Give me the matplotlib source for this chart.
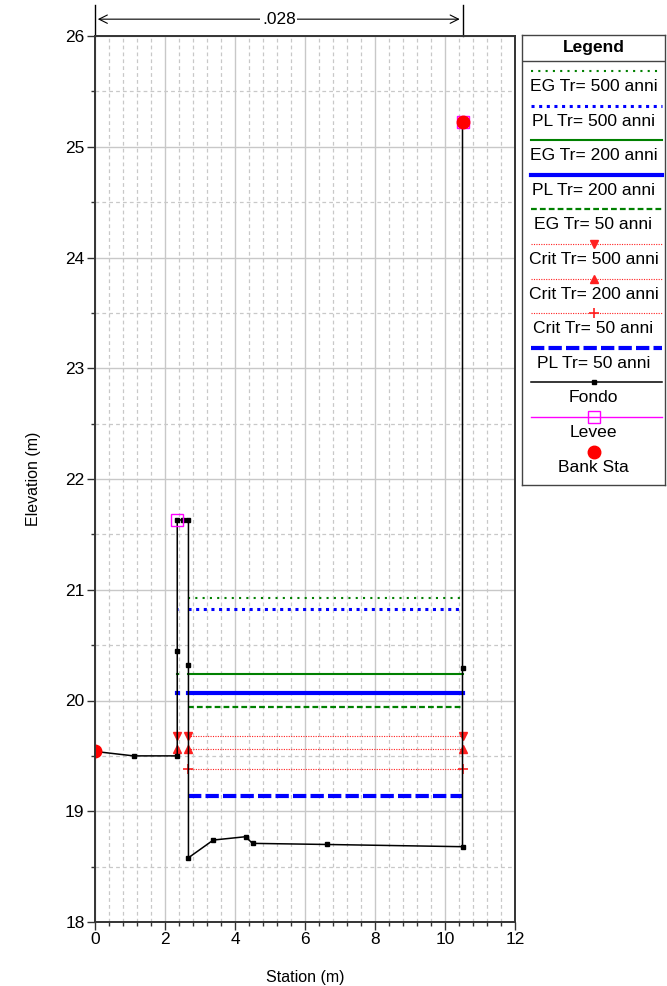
import matplotlib.pyplot as plt
import matplotlib.transforms as mtransforms
from matplotlib.ticker import MultipleLocator

plt.rcParams['font.family'] = ['Liberation Sans', 'DejaVu Sans']

# Ground profile (Fondo)
fondo_x = [0.0, 1.1, 2.35, 2.35, 2.35, 2.52, 2.67, 2.67, 2.67, 3.38, 4.30, 4.50, 6.62, 10.50, 10.50, 10.50]
fondo_y = [19.54, 19.50, 19.50, 20.45, 21.63, 21.63, 21.63, 20.32, 18.58, 18.74, 18.77, 18.71, 18.70, 18.68, 20.29, 25.22]

# Levee and bank stations
levee_x = [2.35, 10.50]
levee_y = [21.63, 25.22]
bank_x = [0.0, 10.50]
bank_y = [19.54, 25.22]

# Water surfaces
wl_names = ['EG Tr= 500 anni', 'PL Tr= 500 anni', 'EG Tr= 200 anni', 'PL Tr= 200 anni',
            'EG Tr= 50 anni', 'Crit Tr= 500 anni', 'Crit Tr= 200 anni', 'Crit Tr= 50 anni',
            'PL Tr= 50 anni']
wl_elev = [20.93, 20.83, 20.24, 20.07, 19.94, 19.68, 19.56, 19.38, 19.14]
pocket_sta = 2.35        # left wall face
pocket_floor = 19.50     # left overbank ground
channel_sta = [2.67, 10.50]

# Manning n
n_sta = [0.0, 10.50]
n_label = '.028'

# styles
green = '#008000'
blue = '#0000ff'
red = '#ff2020'
wl_styles = [
    dict(color=green, lw=1.5, ls=(0, (1, 2.5))),
    dict(color=blue, lw=2.2, ls=(0, (1, 1.5))),
    dict(color=green, lw=1.5, ls='-'),
    dict(color=blue, lw=3.0, ls='-'),
    dict(color=green, lw=1.6, ls=(0, (2.6, 1.4))),
    dict(color=red, lw=0.8, ls=(0, (1, 1.2)), marker='v', ms=6, mec=red, mfc=red),
    dict(color=red, lw=0.8, ls=(0, (1, 1.2)), marker='^', ms=6, mec=red, mfc=red),
    dict(color=red, lw=0.8, ls=(0, (1, 1.2)), marker='+', ms=7, mew=1.2, mec=red),
    dict(color=blue, lw=3.0, ls=(0, (3.2, 1.0))),
]
fondo_style = dict(color='black', lw=1.1, marker='s', ms=3.5, mfc='black', mec='black')
levee_style = dict(color='#ff00ff', lw=1.0, marker='s', ms=9, mfc='none', mec='#ff00ff')
bank_style = dict(color='red', ls='none', marker='o', ms=9, mfc='red', mec='red')

fig = plt.figure(figsize=(6.67, 9.86), dpi=100)
ax = fig.add_axes([95 / 667, 1 - 922 / 986, 420 / 667, 886 / 986])

for name, elev, st in zip(wl_names, wl_elev, wl_styles):
    has_marker = 'marker' in st
    if elev > pocket_floor:
        if has_marker:
            ax.plot([pocket_sta], [elev], **st)
        else:
            ax.plot([pocket_sta - 0.02, pocket_sta + 0.02], [elev, elev], **st)
    ax.plot(channel_sta, [elev, elev], **st)

ax.plot(fondo_x, fondo_y, **fondo_style)
ax.plot(levee_x, levee_y, ls='none', marker='s', ms=9, mfc='none', mec='#ff00ff', mew=1.0)
ax.plot(bank_x, bank_y, **bank_style)

ax.set_xlim(0, 12)
ax.set_ylim(18, 26)
ax.xaxis.set_major_locator(MultipleLocator(2))
ax.xaxis.set_minor_locator(MultipleLocator(0.4))
ax.yaxis.set_major_locator(MultipleLocator(1))
ax.yaxis.set_minor_locator(MultipleLocator(0.5))
ax.grid(which='major', color='#c8c8c8', lw=1.0, ls='-')
ax.grid(which='minor', color='#c8c8c8', lw=0.9, ls=(0, (3, 2.5)))
ax.set_axisbelow(True)
ax.tick_params(which='both', direction='out', labelsize=12.5, color='#333333', width=1.0)
ax.tick_params(which='major', length=5.5, pad=2)
ax.tick_params(which='minor', length=3)
for sp in ax.spines.values():
    sp.set_linewidth(1.4)
    sp.set_color('#333333')
ax.set_xlabel('Station (m)', fontsize=11.5, labelpad=16)
ax.set_ylabel('Elevation (m)', fontsize=11.5, labelpad=17)

# Manning n annotation above the plot
trans = mtransforms.blended_transform_factory(ax.transData, ax.transAxes)
for s in n_sta:
    ax.plot([s, s], [1.0, 1.035], transform=trans, color='black', lw=1.0, clip_on=False)
ax.annotate('', xy=(n_sta[0], 1.019), xytext=(n_sta[1], 1.019), xycoords=trans, textcoords=trans,
            arrowprops=dict(arrowstyle='<->,head_length=0.6,head_width=0.3', lw=0.8, color='black'))
ax.text(sum(n_sta) / 2, 1.019, n_label, transform=trans, ha='center', va='center', fontsize=12.5,
        bbox=dict(facecolor='white', edgecolor='none', pad=1))

# Legend drawn as its own box: sample line on top, label below
lax = fig.add_axes([522 / 667, 1 - 485 / 986, 143 / 667, 450 / 986])
lax.set_xlim(0, 143)
lax.set_ylim(450, 0)
lax.set_xticks([])
lax.set_yticks([])
for sp in lax.spines.values():
    sp.set_linewidth(1.0)
    sp.set_color('#444444')
lax.text(71.5, 13, 'Legend', ha='center', va='center', fontsize=12.5, fontweight='bold')
lax.axhline(26, color='#444444', lw=1.0)

leg_names = wl_names + ['Fondo', 'Levee', 'Bank Sta']
leg_styles = wl_styles + [fondo_style, levee_style, bank_style]
y0 = 36
for i, (name, st) in enumerate(zip(leg_names, leg_styles)):
    y = y0 + i * 34.6
    line_st = {k: v for k, v in st.items() if k not in ('marker', 'ms', 'mfc', 'mec', 'mew')}
    if st.get('ls', '-') != 'none':
        lax.plot([9, 140], [y, y], **line_st)
    if 'marker' in st:
        mk = {k: v for k, v in st.items() if k in ('marker', 'ms', 'mfc', 'mec', 'mew', 'color')}
        lax.plot([71.5], [y], ls='none', **mk)
    lax.text(71.5, y + 15.5, name, ha='center', va='center', fontsize=12.6)

fig.savefig('out.png', dpi=100)
